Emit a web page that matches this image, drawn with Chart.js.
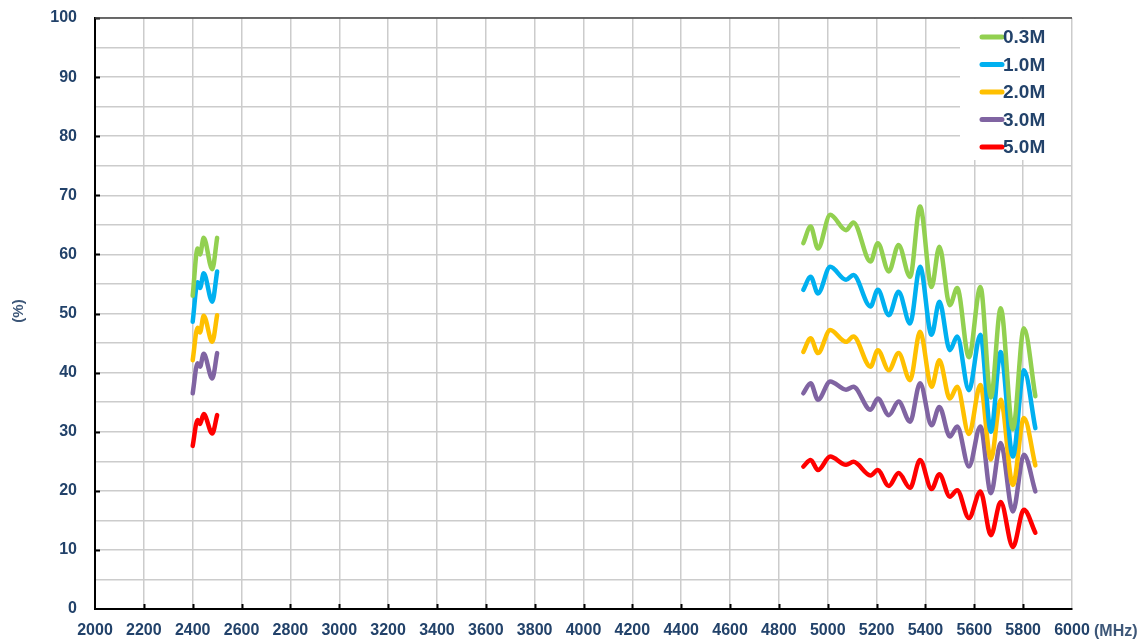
<!DOCTYPE html>
<html>
<head>
<meta charset="utf-8">
<script src="https://cdn.jsdelivr.net/npm/chart.js@4.4.0/dist/chart.umd.min.js"></script>
<style>
    html, body { margin: 0; padding: 0; background: #ffffff; }
    #wrap { width: 1148px; height: 644px; }
</style>
</head>
<body>
<div id="wrap"><canvas id="effChart" width="1148" height="644"></canvas></div>
<script>
// Datos
const seriesNames = ['0.3M', '1.0M', '2.0M', '3.0M', '5.0M'];
const seriesColors = ['#92d050', '#00b0f0', '#ffc000', '#8064a2', '#ff0000'];

// Frecuencias (MHz) - banda 2.4G y banda 5G
const freqs24 = [2400, 2420, 2430, 2445, 2480, 2500];
const freqs5 = [4900, 4930, 4960, 5010, 5075, 5105, 5175, 5205, 5250, 5290, 5337, 5378,
                5425, 5457, 5500, 5530, 5578, 5625, 5668, 5708, 5758, 5803, 5850];

// Eficiencia (%) por serie
const eff03_24 = [53.0, 61.0, 60.0, 62.8, 57.5, 62.8];
const eff10_24 = [48.6, 55.3, 54.3, 56.8, 52.0, 57.1];
const eff20_24 = [42.1, 47.6, 46.8, 49.6, 45.2, 49.7];
const eff30_24 = [36.5, 41.6, 41.0, 43.2, 39.0, 43.3];
const eff50_24 = [27.6, 32.0, 31.3, 33.0, 29.7, 32.8];

const eff03_5 = [61.9, 64.7, 61.0, 66.7, 64.1, 65.4, 58.8, 61.9, 57.1, 61.6, 56.2, 68.1,
                 54.5, 61.3, 51.4, 54.3, 42.6, 54.5, 35.8, 50.9, 30.4, 47.5, 36.0];
const eff10_5 = [54.0, 56.2, 53.4, 57.9, 55.7, 56.5, 51.2, 54.0, 49.7, 53.7, 48.3, 57.9,
                 46.4, 52.0, 43.8, 46.1, 37.0, 46.4, 30.0, 43.5, 25.8, 40.4, 30.6];
const eff20_5 = [43.5, 45.8, 43.3, 47.2, 45.2, 46.1, 41.0, 43.8, 40.4, 43.3, 38.7, 46.9,
                 37.6, 42.1, 35.6, 37.6, 29.6, 37.9, 25.3, 35.4, 21.0, 32.3, 24.3];
const eff30_5 = [36.5, 38.2, 35.4, 38.5, 37.1, 37.6, 33.7, 35.6, 32.8, 35.1, 31.7, 38.2,
                 31.1, 34.2, 29.2, 30.9, 24.1, 30.9, 19.6, 28.1, 16.5, 26.1, 19.9];
const eff50_5 = [24.1, 25.2, 23.5, 25.8, 24.4, 24.9, 22.6, 23.5, 20.8, 23.0, 20.5, 25.2,
                 20.3, 22.8, 19.0, 20.1, 15.4, 19.9, 12.5, 18.1, 10.5, 16.8, 12.9];

const band24 = [eff03_24, eff10_24, eff20_24, eff30_24, eff50_24];
const band5 = [eff03_5, eff10_5, eff20_5, eff30_5, eff50_5];

// Ejes
const xMin = 2000, xMax = 6000, xStep = 200;
const yMin = 0, yMax = 100, yStep = 5;

const labelColor = '#22426a';
const labelFont = { family: 'Liberation Sans, Arial, sans-serif', size: 16, weight: 'bold' };

// Función auxiliar para convertir arrays en puntos {x, y}
function toPoints(xs, ys) {
    return xs.map((x, i) => ({ x: x, y: ys[i] }));
}

// Construir datasets (dos tramos por serie)
function buildDatasets() {
    const datasets = [];
    seriesNames.forEach((name, i) => {
        [band24[i], band5[i]].forEach((vals, b) => {
            datasets.push({
                label: name,
                data: toPoints(b === 0 ? freqs24 : freqs5, vals),
                borderColor: seriesColors[i],
                borderWidth: 4.5,
                borderCapStyle: 'round',
                borderJoinStyle: 'round',
                pointRadius: 0,
                fill: false,
                cubicInterpolationMode: 'monotone'
            });
        });
    });
    return datasets;
}

// Plugin: leyenda dentro del área, marcas interiores y textos de unidades
const framePlugin = {
    id: 'frame',
    beforeDatasetsDraw(chart) {
        const ctx = chart.ctx;
        const area = chart.chartArea;
        ctx.save();
        // caja blanca de la leyenda
        ctx.fillStyle = '#ffffff';
        ctx.fillRect(area.right - 112, area.top + 1, 111, 141);
        // entradas de la leyenda
        ctx.font = 'bold 19px Liberation Sans, Arial, sans-serif';
        ctx.textBaseline = 'middle';
        ctx.textAlign = 'left';
        seriesNames.forEach((name, i) => {
            const y = area.top + 19 + i * 27.5;
            ctx.strokeStyle = seriesColors[i];
            ctx.lineWidth = 5;
            ctx.lineCap = 'round';
            ctx.beginPath();
            ctx.moveTo(area.right - 90, y);
            ctx.lineTo(area.right - 70, y);
            ctx.stroke();
            ctx.fillStyle = labelColor;
            ctx.fillText(name, area.right - 69, y + 1);
        });
        ctx.restore();
    },
    afterDraw(chart) {
        const ctx = chart.ctx;
        const area = chart.chartArea;
        const xs = chart.scales.x;
        const ys = chart.scales.y;
        ctx.save();
        ctx.strokeStyle = '#000000';
        ctx.lineWidth = 2;
        // marcas del eje Y (cada 10)
        for (let v = yMin + 10; v <= yMax; v += 10) {
            const py = Math.round(ys.getPixelForValue(v)) + 0.5;
            ctx.beginPath();
            ctx.moveTo(area.left, py);
            ctx.lineTo(area.left + 5, py);
            ctx.stroke();
        }
        // marcas del eje X (cada 200)
        for (let v = xMin + xStep; v < xMax; v += xStep) {
            const px = Math.round(xs.getPixelForValue(v)) + 0.5;
            ctx.beginPath();
            ctx.moveTo(px, area.bottom);
            ctx.lineTo(px, area.bottom - 5);
            ctx.stroke();
        }
        // borde superior
        ctx.strokeStyle = '#444444';
        ctx.lineWidth = 1.5;
        ctx.beginPath();
        ctx.moveTo(area.left, area.top);
        ctx.lineTo(area.right, area.top);
        ctx.stroke();
        // unidad eje X
        ctx.fillStyle = '#3d5778';
        ctx.font = 'bold 16px Liberation Sans, Arial, sans-serif';
        ctx.textAlign = 'left';
        ctx.textBaseline = 'middle';
        ctx.fillText('(MHz)', area.right + 22, 632);
        // unidad eje Y
        ctx.translate(19, 311);
        ctx.rotate(-Math.PI / 2);
        ctx.textAlign = 'center';
        ctx.font = 'bold 15px Liberation Sans, Arial, sans-serif';
        ctx.fillText('(%)', 0, 0);
        ctx.restore();
    }
};

// Crear gráfico
document.addEventListener('DOMContentLoaded', () => {
    const ctx = document.getElementById('effChart').getContext('2d');
    new Chart(ctx, {
        type: 'line',
        data: { datasets: buildDatasets() },
        options: {
            responsive: false,
            animation: false,
            devicePixelRatio: 1,
            layout: { padding: { top: 18, right: 76, left: 0, bottom: 0 } },
            plugins: {
                legend: { display: false },
                tooltip: { enabled: false }
            },
            scales: {
                x: {
                    type: 'linear',
                    min: xMin,
                    max: xMax,
                    afterFit: (scale) => {
                        scale.height = 35;
                        scale.paddingLeft = 0;
                        scale.paddingRight = 0;
                    },
                    ticks: {
                        stepSize: xStep,
                        autoSkip: false,
                        maxRotation: 0,
                        padding: 12,
                        color: labelColor,
                        font: labelFont,
                        callback: (v) => String(v)
                    },
                    grid: { color: '#cccccc', lineWidth: 1.5, drawTicks: false },
                    border: { display: true, color: '#000000', width: 2 }
                },
                y: {
                    min: yMin,
                    max: yMax,
                    afterFit: (scale) => {
                        scale.width = 95;
                        scale.paddingTop = 0;
                        scale.paddingBottom = 0;
                    },
                    ticks: {
                        stepSize: yStep,
                        autoSkip: false,
                        padding: 18,
                        color: labelColor,
                        font: labelFont,
                        callback: (v) => (v % 10 === 0 ? String(v) : '')
                    },
                    grid: { color: '#cccccc', lineWidth: 1.5, drawTicks: false },
                    border: { display: true, color: '#000000', width: 2 }
                }
            }
        },
        plugins: [framePlugin]
    });
});
</script>
</body>
</html>
